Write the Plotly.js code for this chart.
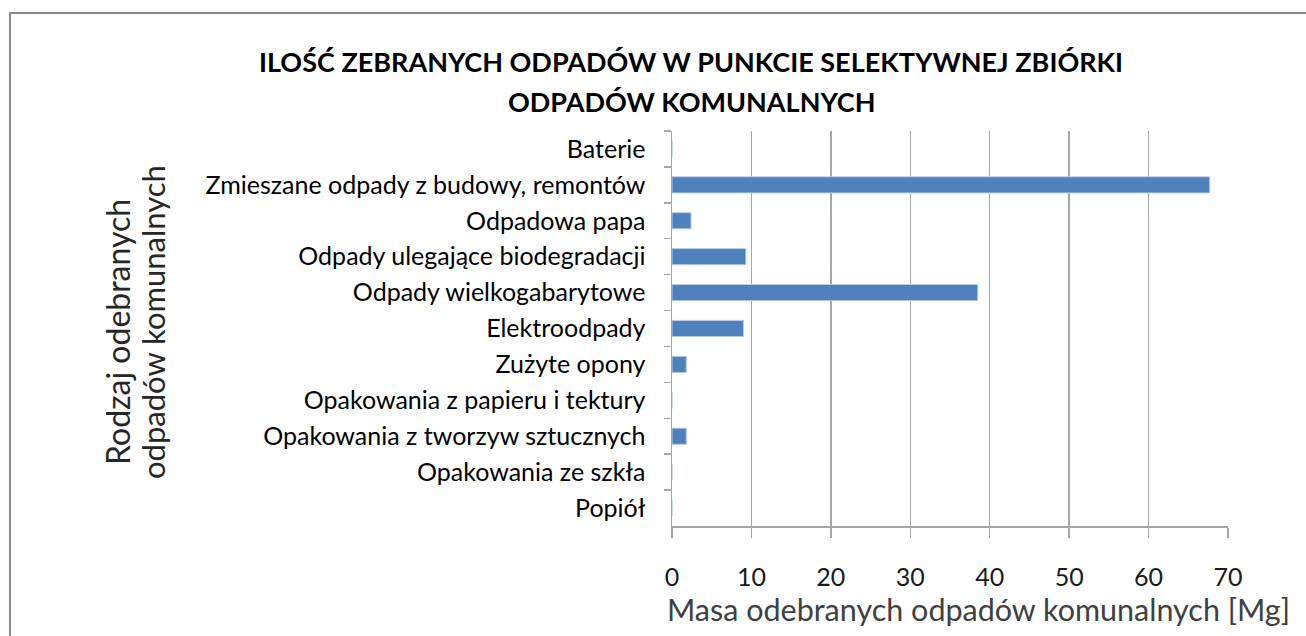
<!DOCTYPE html>
<html><head><meta charset="utf-8">
<script src="https://cdn.plot.ly/plotly-3.0.1.min.js"></script>
<style>
html,body{margin:0;padding:0;background:#fff;}
#wrap{position:relative;width:1306px;height:636px;overflow:hidden;}
#frame{position:absolute;left:9px;top:12px;width:1400px;height:700px;border:2px solid #8a8a8a;box-sizing:border-box;pointer-events:none;}
#chart{position:absolute;left:0;top:0;width:1306px;height:636px;}
</style></head>
<body><div id="wrap"><div id="chart"></div><div id="frame"></div></div>
<script>
const categories = [
  "Baterie",
  "Zmieszane odpady z budowy, remontów",
  "Odpadowa papa",
  "Odpady ulegające biodegradacji",
  "Odpady wielkogabarytowe",
  "Elektroodpady",
  "Zużyte opony",
  "Opakowania z papieru i tektury",
  "Opakowania z tworzyw sztucznych",
  "Opakowania ze szkła",
  "Popiół"
];
const masses = [0, 67.7, 2.4, 9.3, 38.5, 9.0, 1.8, 0, 1.8, 0, 0];
const xTicks = [0, 10, 20, 30, 40, 50, 60, 70];
const titleLines = ["ILOŚĆ ZEBRANYCH ODPADÓW W PUNKCIE SELEKTYWNEJ ZBIÓRKI", "ODPADÓW KOMUNALNYCH"];
const xTitle = "Masa odebranych odpadów komunalnych [Mg]";
const yTitleLines = ["Rodzaj odebranych", "odpadów komunalnych"];

const FONT = "Lato, Open Sans, sans-serif";
const L = 672, T = 131, W = 556, H = 395;
const px = v => (v - L) / W;
const py = v => (T + H - v) / H;

const trace = {
  type: "bar",
  orientation: "h",
  y: categories,
  x: masses,
  marker: {color: "#4f81bd", line: {color: "#b9cde5", width: 1}},
  hoverinfo: "x+y"
};
const layout = {
  width: 1306, height: 636,
  margin: {l: L, r: 1306 - L - W, t: T, b: 636 - T - H, autoexpand: false},
  paper_bgcolor: "#fff", plot_bgcolor: "#fff",
  showlegend: false,
  bargap: 0.55,
  xaxis: {
    range: [0, 70], tickvals: xTicks, ticktext: xTicks.map(String),
    showgrid: true, gridcolor: "#a6a6a6", gridwidth: 1.5,
    zeroline: false, showline: true, linecolor: "#a6a6a6", linewidth: 1.5,
    ticks: "outside", ticklen: 10, tickcolor: "#a6a6a6", tickwidth: 1.5,
    ticklabelstandoff: 18,
    tickfont: {family: FONT, size: 25, color: "#1a1a1a"},
    fixedrange: true
  },
  yaxis: {
    type: "category", autorange: "reversed",
    showgrid: false, zeroline: false, showline: true, linecolor: "#a6a6a6", linewidth: 1.5,
    ticks: "outside", ticklen: 7, tickcolor: "#a6a6a6", tickwidth: 1.5, tickson: "boundaries",
    ticklabelstandoff: 20,
    tickfont: {family: FONT, size: 25, color: "#000"},
    fixedrange: true
  },
  annotations: [
    {text: "<b>" + titleLines[0] + "</b>", xref: "paper", yref: "paper",
     x: px(691), y: py(62), xanchor: "center", yanchor: "middle",
     showarrow: false, font: {family: FONT, size: 27, color: "#000"}},
    {text: "<b>" + titleLines[1] + "</b>", xref: "paper", yref: "paper",
     x: px(691), y: py(101), xanchor: "center", yanchor: "middle",
     showarrow: false, font: {family: FONT, size: 27, color: "#000"}},
    {text: xTitle, xref: "paper", yref: "paper",
     x: px(978), y: py(609), xanchor: "center", yanchor: "middle",
     showarrow: false, font: {family: FONT, size: 30.5, color: "#404040"}},
    {text: yTitleLines[0], xref: "paper", yref: "paper", textangle: -90,
     x: px(117), y: py(332), xanchor: "center", yanchor: "middle",
     showarrow: false, font: {family: FONT, size: 32, color: "#262626"}},
    {text: yTitleLines[1], xref: "paper", yref: "paper", textangle: -90,
     x: px(153), y: py(322), xanchor: "center", yanchor: "middle",
     showarrow: false, font: {family: FONT, size: 31, color: "#262626"}}
  ]
};
Plotly.newPlot("chart", [trace], layout, {displayModeBar: false, staticPlot: true});
</script>
</body></html>
